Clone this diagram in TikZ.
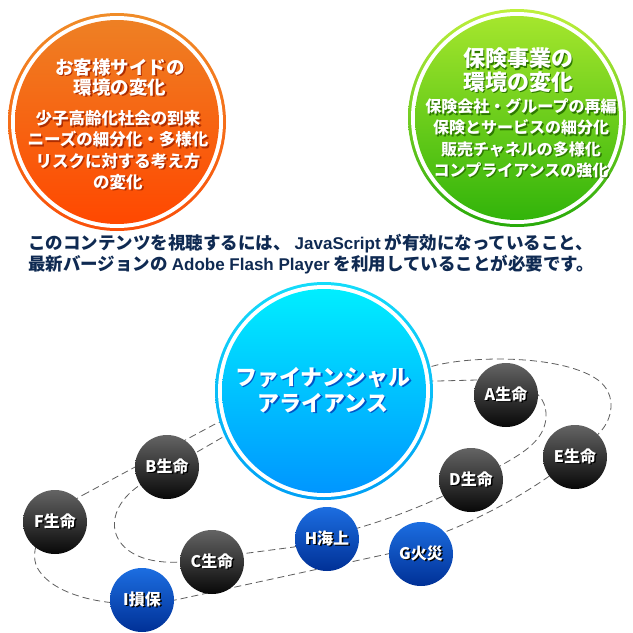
\documentclass[tikz,border=0pt]{standalone}
\usepackage{fontspec}
\newfontfamily\jp{Noto Sans CJK JP}
\newfontfamily\lat{Liberation Sans}
\definecolor{oraTop}{RGB}{238,128,36}
\definecolor{oraBot}{RGB}{255,72,0}
\definecolor{oraRingTop}{RGB}{240,140,40}
\definecolor{oraRingBot}{RGB}{250,80,10}
\definecolor{oraSh}{RGB}{175,45,0}
\definecolor{grnTop}{RGB}{165,230,45}
\definecolor{grnBot}{RGB}{50,180,10}
\definecolor{grnRingTop}{RGB}{190,240,60}
\definecolor{grnRingBot}{RGB}{40,170,10}
\definecolor{grnSh}{RGB}{45,120,0}
\definecolor{bluTop}{RGB}{0,238,255}
\definecolor{bluBot}{RGB}{0,150,255}
\definecolor{bluRingTop}{RGB}{20,220,250}
\definecolor{bluRingBot}{RGB}{0,160,245}
\definecolor{bluSh}{RGB}{0,85,200}
\definecolor{darkTop}{RGB}{100,100,100}
\definecolor{darkBot}{RGB}{8,8,8}
\definecolor{navyTop}{RGB}{28,110,225}
\definecolor{navyBot}{RGB}{0,48,150}
\definecolor{txtNavy}{RGB}{15,42,82}
\definecolor{orbitGray}{RGB}{95,95,95}
\newcommand\sh[2]{\leavevmode\rlap{\kern1.5pt\raisebox{-1.5pt}{\textcolor{#1}{#2}}}#2}
\newcommand\lt[1]{{\lat\bfseries\fontsize{17}{21}\selectfont #1}}
\pgfdeclarelayer{bg}
\pgfsetlayers{bg,main}
\begin{document}
\begin{tikzpicture}[x=1pt,y=-1pt,
  ring/.style={circle, inner sep=0pt, minimum size=218pt},
  hole/.style={circle, fill=white, inner sep=0pt, minimum size=212pt},
  disc/.style={circle, inner sep=0pt, minimum size=204pt},
  label/.style={inner sep=0pt, align=center, text=white},
  ball/.style={circle, inner sep=0pt, minimum size=64pt, top color=darkTop, bottom color=darkBot,
    text=white, font=\jp\bfseries\fontsize{16}{16}\selectfont},
  nball/.style={ball, top color=navyTop, bottom color=navyBot},
  orbit/.style={draw=orbitGray, line width=0.8pt, dash pattern=on 7pt off 4pt}]
\useasboundingbox (0,0) rectangle (633,633);

% orange circle
\node[ring, top color=oraRingTop, bottom color=oraRingBot] (oRing) at (117,122) {};
\node[hole] (oHole) at (oRing) {};
\node[disc, top color=oraTop, bottom color=oraBot] (oDisc) at (oRing) {};
\node[label, font=\jp\bfseries\fontsize{18.5}{20}\selectfont] (oTitle) at (120,78)
  {\sh{oraSh}{お客様サイドの}\\\sh{oraSh}{環境の変化}};
\node[label, font=\jp\bfseries\fontsize{16.5}{21.3}\selectfont] (oBody) at (118,151)
  {\sh{oraSh}{少子高齢化社会の到来}\\\sh{oraSh}{ニーズの細分化・多様化}\\\sh{oraSh}{リスクに対する考え方}\\\sh{oraSh}{の変化}};

% green circle
\node[ring, top color=grnRingTop, bottom color=grnRingBot] (gRing) at (517,118) {};
\node[hole] (gHole) at (gRing) {};
\node[disc, top color=grnTop, bottom color=grnBot] (gDisc) at (gRing) {};
\node[label, font=\jp\bfseries\fontsize{22}{22}\selectfont] (gTitle) at (518,71)
  {\sh{grnSh}{保険事業の}\\\sh{grnSh}{環境の変化}};
\node[label, font=\jp\bfseries\fontsize{16}{21.3}\selectfont] (gBody) at (521,139)
  {\sh{grnSh}{保険会社・グループの再編}\\\sh{grnSh}{保険とサービスの細分化}\\\sh{grnSh}{販売チャネルの多様化}\\\sh{grnSh}{コンプライアンスの強化}};

% notice text
\node[inner sep=0pt, anchor=west, align=left, text=txtNavy, font=\jp\bfseries\fontsize{17.5}{21}\selectfont] (notice) at (28,254.5)
  {このコンテンツを視聴するには、 \lt{JavaScript} が有効になっていること、\\最新バージョンの \lt{Adobe Flash Player} を利用していることが必要です。};

% orbit waypoints
\coordinate (l1a) at (83,495);
\coordinate (l1b) at (217,423);
\coordinate (l1c) at (437,365);
\coordinate (l1d) at (598,380);
\coordinate (l1e) at (600,432);
\coordinate (l1f) at (455,528);
\coordinate (l1g) at (392,553);
\coordinate (l1h) at (180,599);
\coordinate (l1i) at (36,565);
\coordinate (l2a) at (140,485);
\coordinate (l2b) at (223,437);
\coordinate (l2c) at (437,381);
\coordinate (l2d) at (477,380);
\coordinate (l2e) at (546,418);
\coordinate (l2f) at (500,466);
\coordinate (l2g) at (358,528);
\coordinate (l2h) at (294,547);
\coordinate (l2i) at (180,562);

% blue circle
\node[ring, top color=bluRingTop, bottom color=bluRingBot] (bRing) at (324,391) {};
\node[hole] (bHole) at (bRing) {};
\node[disc, top color=bluTop, bottom color=bluBot] (bDisc) at (bRing) {};
\node[label, font=\jp\bfseries\fontsize{22}{26}\selectfont] (bTitle) at (323,390.5)
  {\sh{bluSh}{ファイナンシャル}\\\sh{bluSh}{アライアンス}};

% spheres
\node[ball] (A) at (506,395) {\sh{black}{A生命}};
\node[ball] (B) at (167,467) {\sh{black}{B生命}};
\node[ball] (C) at (212,562) {\sh{black}{C生命}};
\node[ball] (D) at (471,480) {\sh{black}{D生命}};
\node[ball] (E) at (575,457) {\sh{black}{E生命}};
\node[ball] (F) at (55,522) {\sh{black}{F生命}};
\node[nball] (G) at (421,554) {\sh{black}{G火災}};
\node[nball] (H) at (327,539) {\sh{black}{H海上}};
\node[nball] (I) at (142,600) {\sh{black}{I損保}};

\begin{pgfonlayer}{bg}
\fill[white] (0,0) rectangle (633,633);
\draw[orbit] (l1a) -- (l1b) -- (l1c) .. controls (480,355) and (565,356) .. (l1d)
  .. controls (618,395) and (612,420) .. (l1e)
  .. controls (575,462) and (520,500) .. (l1f) -- (l1g) -- (l1h)
  .. controls (120,612) and (50,598) .. (l1i)
  .. controls (28,540) and (55,510) .. (l1a);
\draw[orbit] (l2a) -- (l2b) .. controls (300,400) and (380,381) .. (l2c) -- (l2d)
  .. controls (520,378) and (548,390) .. (l2e)
  .. controls (544,440) and (525,452) .. (l2f)
  .. controls (470,484) and (420,510) .. (l2g) -- (l2h) -- (l2i)
  .. controls (110,566) and (95,515) .. (l2a);
\end{pgfonlayer}
\end{tikzpicture}
\end{document}
